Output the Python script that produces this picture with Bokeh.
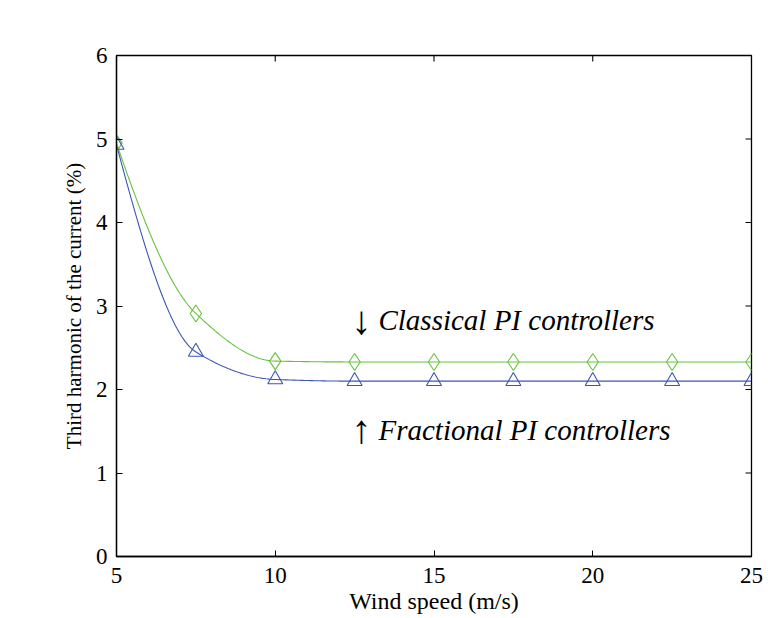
import numpy as np
from bokeh.plotting import figure
from bokeh.models import Range1d, Label, FixedTicker
from bokeh.embed import file_html
from bokeh.resources import INLINE

# Wind speed (m/s) and third-harmonic current content (%)
wind_speed = [5, 7.5, 10, 12.5, 15, 17.5, 20, 22.5, 25]
classical_pi = [4.95, 2.91, 2.34, 2.33, 2.33, 2.33, 2.33, 2.33, 2.33]
fractional_pi = [4.93, 2.45, 2.12, 2.10, 2.10, 2.10, 2.10, 2.10, 2.10]

x_ticks = [5, 10, 15, 20, 25]
y_ticks = [0, 1, 2, 3, 4, 5, 6]
x_lim = (5, 25)
y_lim = (0, 6)

GREEN = "#66c23c"
BLUE = "#3a55b4"
FONT = "Liberation Serif"


def pchip(xs, ys, n=400):
    """Shape-preserving piecewise cubic curve through the measured points."""
    x = np.asarray(xs, float)
    y = np.asarray(ys, float)
    h = np.diff(x)
    delta = np.diff(y) / h
    m = len(x)
    d = np.zeros(m)
    for k in range(1, m - 1):
        if delta[k - 1] * delta[k] > 0:
            w1 = 2 * h[k] + h[k - 1]
            w2 = h[k] + 2 * h[k - 1]
            d[k] = (w1 + w2) / (w1 / delta[k - 1] + w2 / delta[k])

    def end_slope(h0, h1, d0, d1):
        s = ((2 * h0 + h1) * d0 - h0 * d1) / (h0 + h1)
        if np.sign(s) != np.sign(d0):
            s = 0.0
        elif np.sign(d0) != np.sign(d1) and abs(s) > abs(3 * d0):
            s = 3 * d0
        return s

    d[0] = end_slope(h[0], h[1], delta[0], delta[1])
    d[-1] = end_slope(h[-1], h[-2], delta[-1], delta[-2])

    xx = np.linspace(x[0], x[-1], n)
    idx = np.clip(np.searchsorted(x, xx, side="right") - 1, 0, m - 2)
    t = (xx - x[idx]) / h[idx]
    h00 = 2 * t ** 3 - 3 * t ** 2 + 1
    h10 = t ** 3 - 2 * t ** 2 + t
    h01 = -2 * t ** 3 + 3 * t ** 2
    h11 = t ** 3 - t ** 2
    yy = (h00 * y[idx] + h10 * h[idx] * d[idx]
          + h01 * y[idx + 1] + h11 * h[idx] * d[idx + 1])
    return xx, yy


p = figure(width=768, height=618, output_backend="svg", toolbar_location=None,
           x_range=Range1d(*x_lim), y_range=Range1d(*y_lim),
           min_border_left=116, min_border_right=17,
           min_border_top=55, min_border_bottom=62)
p.background_fill_color = "white"
p.border_fill_color = "white"
p.outline_line_color = "black"
p.outline_line_width = 1.3
p.xgrid.visible = False
p.ygrid.visible = False

# smooth curves through the points
cx, cy = pchip(wind_speed, classical_pi)
fx, fy = pchip(wind_speed, fractional_pi)
p.line(cx, cy, line_color=GREEN, line_width=1.1)
p.line(fx, fy, line_color=BLUE, line_width=1.1)

# markers
p.scatter(wind_speed, classical_pi, marker="diamond", size=17,
          fill_color=None, line_color=GREEN, line_width=1.1)
p.scatter(wind_speed, fractional_pi, marker="triangle", size=15,
          fill_color=None, line_color=BLUE, line_width=1.1)

# mirrored inward ticks on the top and right edges of the box
p.scatter(x_ticks, [y_lim[1]] * len(x_ticks), marker="dash", size=12,
          angle=np.pi / 2, line_color="black", line_width=1.1)
p.scatter([x_lim[1]] * len(y_ticks), y_ticks, marker="dash", size=12,
          line_color="black", line_width=1.1)

xa = p.xaxis[0]
ya = p.yaxis[0]
xa.ticker = FixedTicker(ticks=x_ticks)
ya.ticker = FixedTicker(ticks=y_ticks)
for ax in (xa, ya):
    ax.major_tick_in = 6
    ax.major_tick_out = 0
    ax.minor_tick_in = 0
    ax.minor_tick_out = 0
    ax.axis_line_color = "black"
    ax.axis_line_width = 1.3
    ax.major_tick_line_color = "black"
    ax.major_label_text_font = FONT
    ax.major_label_text_font_size = "23px"
    ax.major_label_text_color = "black"
    ax.axis_label_text_font = FONT
    ax.axis_label_text_font_style = "normal"
    ax.axis_label_text_color = "black"

xa.axis_label = "Wind speed (m/s)"
xa.axis_label_text_font_size = "24px"
xa.axis_label_standoff = 2
xa.major_label_standoff = 11
ya.axis_label = "Third harmonic of the current (%)"
ya.axis_label_text_font_size = "21px"
ya.axis_label_standoff = 7
ya.major_label_standoff = 9

# curve annotations
for arrow, text, yv in [("\u2193", "Classical PI controllers", 2.83),
                        ("\u2191", "Fractional PI controllers", 1.52)]:
    p.add_layout(Label(x=12.4, y=yv, text=arrow, text_font=FONT,
                       text_font_size="40px", text_color="black",
                       text_baseline="middle"))
    p.add_layout(Label(x=12.4, y=yv, x_offset=27, text=text, text_font=FONT,
                       text_font_style="italic", text_font_size="29px",
                       text_color="black", text_baseline="middle"))

open("out.html", "w").write(file_html(p, INLINE))
